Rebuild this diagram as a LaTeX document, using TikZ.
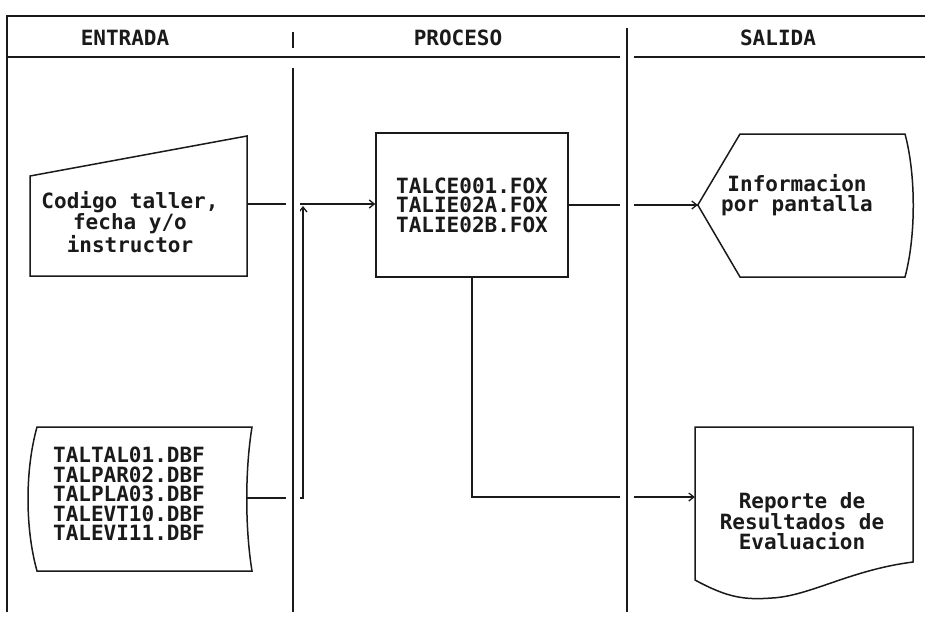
\documentclass[tikz,border=0pt]{standalone}
\usepackage{fontspec}
\newfontfamily\dosfont{DejaVu Sans Mono}
\usetikzlibrary{arrows.meta,calc}
\definecolor{ink}{HTML}{1A1A1A}
\begin{document}
\begin{tikzpicture}[x=1pt,y=-1pt,
  ln/.style={line width=1.5pt, draw=ink},
  lane/.style={line width=1.7pt, draw=ink, preaction={draw=white,line width=14pt}},
  txt/.style={font=\dosfont\bfseries\fontsize{21}{19.5}\selectfont, align=center, inner sep=0pt, text=ink},
  head/.style={font=\dosfont\bfseries\fontsize{21}{20}\selectfont, inner sep=0pt, text=ink},
  box/.style={rectangle, draw=none, inner sep=0pt},
  conn/.style={ln, -{Straight Barb[length=5pt,width=8pt,line width=1.3pt]}},
]
\useasboundingbox (0,0) rectangle (925,618);
\fill[white] (0,0) rectangle (925,618);

% frame and header
\draw[ln] (7,612) -- (7,16) -- (925,16);
\draw[ln] (7,57) -- (925,57);
\node[head] (hin)  at (125,38) {ENTRADA};
\node[head] (hpro) at (458,38) {PROCESO};
\node[head] (hout) at (778,38) {SALIDA};

% shape nodes (invisible anchors)
\node[box, minimum width=217pt, minimum height=136pt] (man) at (138.5,204) {};
\node[box, minimum width=210pt, minimum height=144pt] (dbf) at (142,498) {};
\node[ln, rectangle, minimum width=192pt, minimum height=144pt, inner sep=0pt,
      txt] (proc) at (472,205) {TALCE001.FOX\\TALIE02A.FOX\\TALIE02B.FOX};
\node[box, minimum width=215pt, minimum height=143pt] (disp) at (805.5,205) {};
\node[box, minimum width=218pt, minimum height=140pt] (rep) at (804,497) {};

% outlines
\draw[ln] (30,176) -- (247,136) -- (247,276) -- (30,276) -- cycle;
\draw[ln] (37,427) -- (252,427) .. controls (245,470) and (245,528) .. (252,571)
          -- (37,571) .. controls (25,528) and (25,470) .. (37,427) -- cycle;
\draw[ln] (disp.west) -- (740,134) -- (905,134) .. controls (916,175) and (916,236) .. (905,277)
          -- (740,277) -- cycle;
\draw[ln] (695,427) -- (913,427) -- (913,562) .. controls (850,570) and (810,596) .. (772,598)
          .. controls (745,600) and (728,598) .. (695,580) -- cycle;

% texts
\node[txt] (mant) at (130,222) {Codigo taller,\\fecha y/o\\instructor};
\node[txt] (dbft) at (129,494) {TALTAL01.DBF\\TALPAR02.DBF\\TALPLA03.DBF\\TALEVT10.DBF\\TALEVI11.DBF};
\node[txt] (dispt) at (797,195) {Informacion\\por pantalla};
\node[txt] (rept) at (802,521) {Reporte de\\Resultados de\\Evaluacion};

% connectors
\coordinate (join) at (303,206);
\draw[conn] (man.east) -- (man.east -| proc.west);
\draw[conn] (dbf.east) -| (join);
\draw[conn] (proc.east) -- (disp.west);
\draw[conn] (proc.south) |- (rep.west);

% lane dividers (with white gaps where connectors cross)
\draw[ln] (293,32) -- (293,48);
\draw[lane] (293,68) -- (293,612);
\draw[lane] (627,28) -- (627,612);
\end{tikzpicture}
\end{document}
